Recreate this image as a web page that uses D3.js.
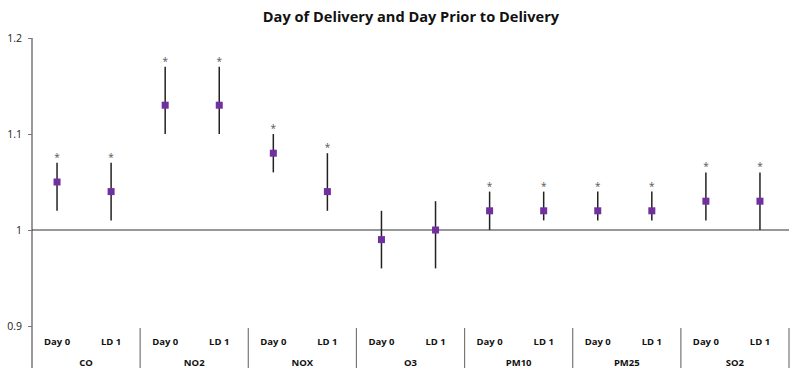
<meta charset="utf-8">
<script src="https://d3js.org/d3.v7.min.js"></script>
<style>
  body { margin: 0; background: #fff; }
  text { font-family: "Open Sans", "Liberation Sans", sans-serif; }
</style>
<div id="chart"></div>
<script>
const width = 800, height = 377

// data
const pollutants = ["CO", "NO2", "NOX", "O3", "PM10", "PM25", "SO2"]
const lags = ["Day 0", "LD 1"]
const estimate = [1.05, 1.04, 1.13, 1.13, 1.08, 1.04, 0.99, 1.00, 1.02, 1.02, 1.02, 1.02, 1.03, 1.03]
const lower    = [1.02, 1.01, 1.10, 1.10, 1.06, 1.02, 0.96, 0.96, 1.00, 1.01, 1.01, 1.01, 1.01, 1.00]
const upper    = [1.07, 1.07, 1.17, 1.17, 1.10, 1.08, 1.02, 1.03, 1.04, 1.04, 1.04, 1.04, 1.06, 1.06]
const signif   = [1, 1, 1, 1, 1, 1, 0, 0, 1, 1, 1, 1, 1, 1]
const yTicks = [0.9, 1, 1.1, 1.2]

let rows = []
pollutants.forEach((p, i) => {
  lags.forEach((l, j) => {
    const k = i * 2 + j
    rows.push({pollutant: p, lag: l, est: estimate[k], lo: lower[k], hi: upper[k], star: signif[k]})
  })
})

const svg = d3.select("#chart").append("svg")
  .attr("width", width)
  .attr("height", height)

const x = d3.scaleBand().domain(pollutants).range([32, 789]).padding(0)
const xs = d3.scaleBand().domain(lags).range([0, x.bandwidth()]).padding(0)
const y = d3.scaleLinear().domain([0.9, 1.2]).range([326, 38])
const cx = d => x(d.pollutant) + xs(d.lag) + xs.bandwidth() / 2 - 2

// title
svg.append("text")
  .attr("x", 411).attr("y", 22)
  .attr("text-anchor", "middle")
  .style("font-size", "14.6px").style("font-weight", "bold").style("fill", "#111")
  .text("Day of Delivery and Day Prior to Delivery")

// y axis
const yaxis = d3.axisLeft(y).tickValues(yTicks).tickSize(4).tickFormat(d3.format("~g"))
const Y = svg.append("g").attr("transform", "translate(32,0)").call(yaxis)
Y.select(".domain").remove()
Y.selectAll(".tick line").attr("stroke", "#777")
Y.selectAll(".tick text").attr("x", -10).style("font-size", "10.5px").style("fill", "#222")
  .style("font-family", "'Open Sans', sans-serif")
svg.append("line").attr("x1", 32).attr("x2", 32).attr("y1", y(1.2)).attr("y2", 368)
  .attr("stroke", "#777").attr("stroke-width", 1.5)

// reference line at 1
svg.append("line").attr("x1", 32).attr("x2", 789).attr("y1", y(1)).attr("y2", y(1))
  .attr("stroke", "#333").attr("stroke-width", 1.2)

// category dividers and labels
svg.selectAll(".div").data(pollutants.slice(1).concat(["end"]))
  .enter().append("line")
  .attr("x1", (d, i) => 32 + (i + 1) * x.bandwidth())
  .attr("x2", (d, i) => 32 + (i + 1) * x.bandwidth())
  .attr("y1", 328).attr("y2", 368)
  .attr("stroke", "#777").attr("stroke-width", 1.2)

svg.selectAll(".lag").data(rows).enter().append("text")
  .attr("x", cx).attr("y", 345)
  .attr("text-anchor", "middle")
  .style("font-size", "9.5px").style("font-weight", "bold").style("fill", "#111")
  .text(d => d.lag)

svg.selectAll(".cat").data(pollutants).enter().append("text")
  .attr("x", d => x(d) + x.bandwidth() / 2).attr("y", 366)
  .attr("text-anchor", "middle")
  .style("font-size", "9.5px").style("font-weight", "bold").style("fill", "#111")
  .text(d => d)

// error bars
svg.selectAll(".err").data(rows).enter().append("line")
  .attr("x1", cx).attr("x2", cx)
  .attr("y1", d => y(d.lo)).attr("y2", d => y(d.hi))
  .attr("stroke", "#222").attr("stroke-width", 1.5)

// points
svg.selectAll(".pt").data(rows).enter().append("rect")
  .attr("x", d => cx(d) - 3.5).attr("y", d => y(d.est) - 3.5)
  .attr("width", 7).attr("height", 7)
  .attr("fill", "#7030A0")

// asterisks
svg.selectAll(".star").data(rows.filter(d => d.star)).enter().append("text")
  .attr("x", cx).attr("y", d => y(d.hi) - 2)
  .attr("text-anchor", "middle")
  .style("font-size", "10px").style("fill", "#555")
  .text("*")
</script>
